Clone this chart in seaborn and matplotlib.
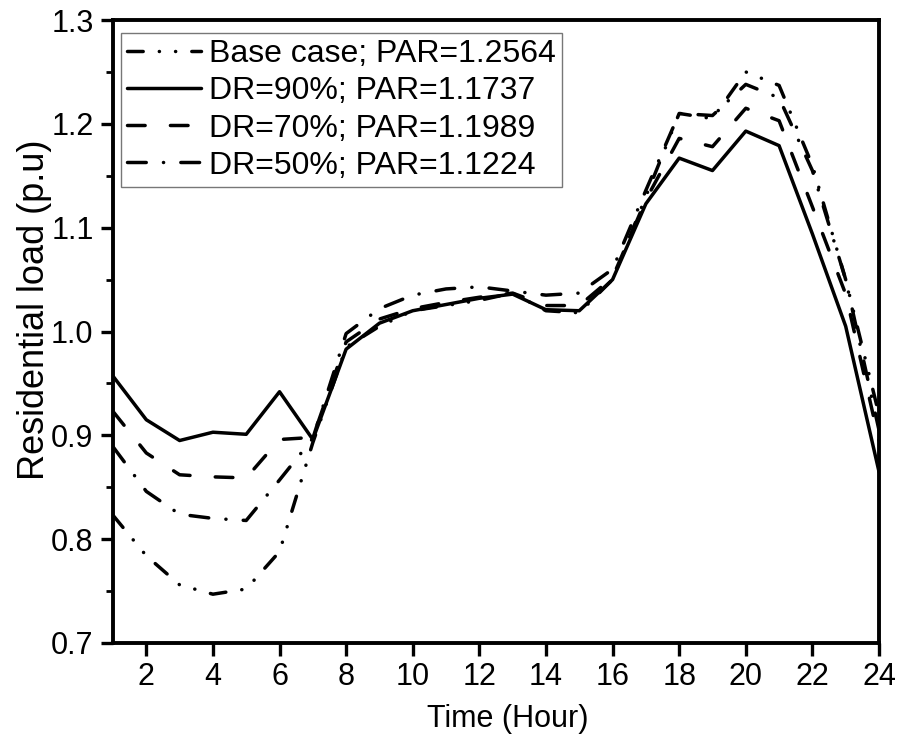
import numpy as np
import pandas as pd
import seaborn as sns
import matplotlib
matplotlib.use("Agg")
import matplotlib.pyplot as plt
from matplotlib.ticker import MultipleLocator

hours = list(range(1, 25))
base_case = [0.823, 0.784, 0.756, 0.747, 0.752, 0.788, 0.893, 0.985, 1.005, 1.020, 1.025, 1.030,
             1.037, 1.020, 1.018, 1.050, 1.130, 1.210, 1.205, 1.250, 1.237, 1.160, 1.050, 0.920]
dr90 = [0.957, 0.915, 0.895, 0.903, 0.901, 0.942, 0.896, 0.983, 1.008, 1.020, 1.026, 1.032,
        1.036, 1.021, 1.020, 1.050, 1.123, 1.167, 1.155, 1.193, 1.179, 1.094, 1.005, 0.865]
dr70 = [0.923, 0.883, 0.862, 0.860, 0.859, 0.896, 0.898, 0.990, 1.012, 1.022, 1.028, 1.033,
        1.037, 1.025, 1.025, 1.052, 1.127, 1.186, 1.178, 1.215, 1.203, 1.120, 1.036, 0.895]
dr50 = [0.889, 0.846, 0.824, 0.820, 0.818, 0.857, 0.897, 0.998, 1.022, 1.035, 1.041, 1.043,
        1.039, 1.035, 1.037, 1.060, 1.136, 1.210, 1.208, 1.238, 1.225, 1.155, 1.050, 0.905]
labels = ["Base case; PAR=1.2564", "DR=90%; PAR=1.1737", "DR=70%; PAR=1.1989", "DR=50%; PAR=1.1224"]
xticks = list(range(2, 25, 2))
yticks = [0.7, 0.8, 0.9, 1.0, 1.1, 1.2, 1.3]

sns.set_style("ticks")
plt.rcParams['font.family'] = ['Liberation Sans', 'DejaVu Sans']
plt.rcParams['lines.scale_dashes'] = False
plt.rcParams['text.color'] = 'black'
plt.rcParams['axes.labelcolor'] = 'black'

fig = plt.figure(figsize=(9.03, 7.49), dpi=100)
ax = fig.add_axes([113/903, 1 - 643/749, 766/903, 623/749])

series = [base_case, dr90, dr70, dr50]
dash_styles = [
    (0, (11.3, 11.6, 0.1, 11.6, 0.1, 11.6)),
    None,
    (0, (12.7, 18.2)),
    (0, (13.5, 12.4, 0.1, 12.4)),
]
lw = 2.5
for vals, lab, ds in zip(series, labels, dash_styles):
    df = pd.DataFrame({"Hour": hours, "Load": vals})
    sns.lineplot(data=df, x="Hour", y="Load", ax=ax, color="black", linewidth=lw, label=lab)
    line = ax.get_lines()[-1]
    if ds is not None:
        line.set_linestyle(ds)
        line.set_dash_capstyle('round')

ax.set_xlim(1, 24)
ax.set_ylim(0.7, 1.3)
ax.set_xticks(xticks)
ax.set_yticks(yticks)
ax.set_yticklabels([f"{v:.1f}" for v in yticks])
ax.yaxis.set_minor_locator(MultipleLocator(0.05))
ax.tick_params(axis='both', which='major', direction='out', length=9, width=2.4,
               labelsize=22, color='black', labelcolor='black', pad=5)
ax.tick_params(axis='y', which='minor', direction='out', length=5, width=2.0, color='black')
for sp in ax.spines.values():
    sp.set_visible(True)
    sp.set_linewidth(2.8)
    sp.set_color('black')
ax.set_xlabel("Time (Hour)", fontsize=22, color='black')
ax.set_ylabel("Residential load (p.u)", fontsize=26, color='black')
ax.xaxis.set_label_coords(0.515, -0.098)
ax.yaxis.set_label_coords(-0.079, 0.535)

leg = ax.legend(loc='upper left', bbox_to_anchor=(0.0104, 0.979), borderaxespad=0,
                fontsize=23, frameon=True, fancybox=False, edgecolor='#555555',
                handlelength=2.3, handletextpad=0.25, labelspacing=0.22, borderpad=0.2)
leg.get_frame().set_linewidth(1.0)
for t in leg.get_texts():
    t.set_color('black')
for h in leg.get_lines():
    h.set_linewidth(lw)

fig.savefig("out.png", dpi=100)
